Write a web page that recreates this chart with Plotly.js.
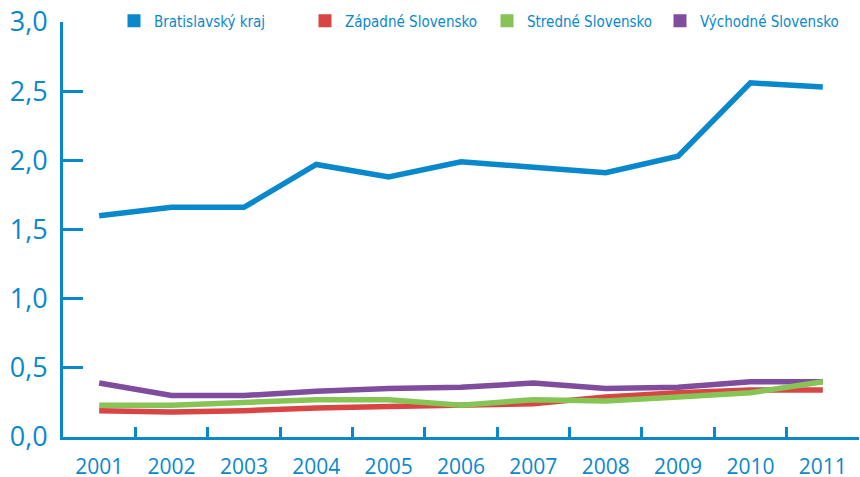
<!DOCTYPE html>
<html>
<head>
<meta charset="utf-8">
<script src="https://cdn.plot.ly/plotly-3.0.1.min.js"></script>
<style>html,body{margin:0;padding:0;background:#fff;}#chart{width:860px;height:477px;}</style>
</head>
<body>
<div id="chart"></div>
<script>
const years = ['2001','2002','2003','2004','2005','2006','2007','2008','2009','2010','2011'];
const seriesNames = ['Bratislavský kraj','Západné Slovensko','Stredné Slovensko','Východné Slovensko'];
const bratislavsky = [1.60, 1.66, 1.66, 1.97, 1.88, 1.99, 1.95, 1.91, 2.03, 2.56, 2.53];
const zapadne      = [0.19, 0.18, 0.19, 0.21, 0.22, 0.23, 0.24, 0.29, 0.32, 0.34, 0.34];
const stredne      = [0.23, 0.23, 0.25, 0.27, 0.27, 0.23, 0.27, 0.26, 0.29, 0.32, 0.40];
const vychodne     = [0.39, 0.30, 0.30, 0.33, 0.35, 0.36, 0.39, 0.35, 0.36, 0.40, 0.40];
const yTicks = [0, 0.5, 1, 1.5, 2, 2.5, 3];

const colors = ['#0a88cc', '#d94545', '#86c456', '#7f4c9e'];
const values = [bratislavsky, zapadne, stredne, vychodne];
// drawing order: lower lines first, blue on top
const order = [3, 1, 2, 0];
const legendIds = ['legend', 'legend2', 'legend3', 'legend4'];

const traces = [];
order.forEach(i => {
  traces.push({
    x: years, y: values[i], type: 'scatter', mode: 'lines',
    line: {color: colors[i], width: 5.5},
    showlegend: false, hoverinfo: 'skip'
  });
});
seriesNames.forEach((n, i) => {
  traces.push({
    x: [null], y: [null], type: 'scatter', mode: 'markers', name: n,
    marker: {symbol: 'square', size: 13, color: colors[i]},
    legend: legendIds[i], showlegend: true
  });
});

const axisColor = '#0a88cc';
const legendLeft = [114, 305, 487, 660];
const layout = {
  width: 860, height: 477,
  margin: {l: 63, r: 1, t: 22, b: 40, autoexpand: false},
  paper_bgcolor: '#fff', plot_bgcolor: '#fff',
  separators: ',.',
  font: {family: 'Open Sans, sans-serif', color: axisColor},
  xaxis: {
    type: 'category', range: [-0.5, 10.5],
    showline: true, linecolor: axisColor, linewidth: 3,
    ticks: 'inside', tickson: 'boundaries', ticklen: 10, tickwidth: 3, tickcolor: axisColor,
    showgrid: false, zeroline: false,
    tickfont: {size: 21, color: axisColor, family: 'Open Sans, sans-serif'},
    ticklabelstandoff: 9, fixedrange: true, automargin: false
  },
  yaxis: {
    range: [0, 3], tickvals: yTicks, tickformat: '.1f',
    showline: true, linecolor: axisColor, linewidth: 3,
    ticks: 'inside', ticklen: 20, tickwidth: 3, tickcolor: axisColor,
    showgrid: false, zeroline: false,
    tickfont: {size: 27, color: axisColor, family: 'Open Sans, sans-serif'},
    ticklabelstandoff: 7, fixedrange: true, automargin: false
  },
  showlegend: true
};
legendIds.forEach((id, i) => {
  layout[id] = {
    xref: 'container', yref: 'container',
    x: legendLeft[i] / 860, y: 1 - 21 / 477, xanchor: 'left', yanchor: 'middle',
    orientation: 'h', bgcolor: 'rgba(0,0,0,0)', borderwidth: 0,
    font: {size: 15, color: axisColor, family: 'Liberation Sans Narrow, DejaVu Sans Condensed, sans-serif'}
  };
});

Plotly.newPlot('chart', traces, layout, {displayModeBar: false, staticPlot: true});
</script>
</body>
</html>
